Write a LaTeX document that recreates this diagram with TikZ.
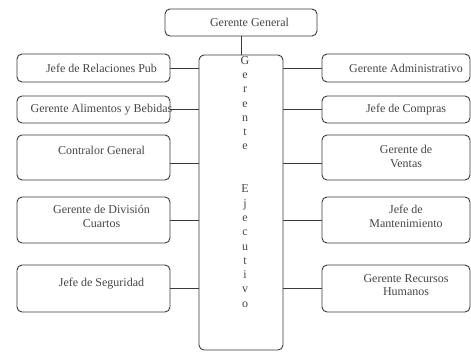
\documentclass[tikz,border=0pt]{standalone}
\usepackage{fontspec}
\setmainfont{Liberation Serif}
\usetikzlibrary{positioning,calc}
\definecolor{orgline}{HTML}{3A3A3A}
\definecolor{orgtext}{HTML}{454545}
\tikzset{
  cargo/.style={draw=orgline, line width=0.9pt, rounded corners=5pt, minimum width=153pt, minimum height=28pt, inner sep=0pt},
  cargoder/.style={cargo, minimum width=148pt},
  cargoalto/.style={cargo, minimum height=46pt},
  cargoderalto/.style={cargoder, minimum height=46pt},
  rotulo/.style={font=\fontsize{12}{13.5}\selectfont, text=orgtext, align=center, inner sep=0pt},
  enlace/.style={draw=orgline, line width=0.9pt}
}

\begin{document}
\begin{tikzpicture}[x=1pt, y=-1pt]
  \useasboundingbox (0,0) rectangle (471,353);
  % top and central boxes
  \node[cargo, minimum width=152pt, minimum height=27pt] (general) at (241,22.5) {};
  \node[draw=orgline, line width=0.9pt, rounded corners=5pt, minimum width=84pt, minimum height=295pt, inner sep=0pt] (ejec) at (241,202.5) {};
  \node[rotulo] (generaltxt) at ([xshift=8.5pt]general.center) {Gerente General};
  \node[rotulo, font=\fontsize{12}{14.3}\selectfont, anchor=north] (ejectxt) at (245,56) {G\\e\\r\\e\\n\\t\\e\\[28.6pt]E\\j\\e\\c\\u\\t\\i\\v\\o};
  % left column
  \node[cargo] (relpub) at (93.5,68) {};
  \node[cargo, minimum height=27pt] (alimentos) at (93.5,109.5) {};
  \node[cargoalto, minimum height=45pt] (contralor) at (93.5,157.5) {};
  \node[cargoalto] (cuartos) at (93.5,220) {};
  \node[cargoalto, minimum height=47pt] (seguridad) at (93.5,288.5) {};
  \node[rotulo] (relpubtxt) at ([xshift=8pt]relpub.center) {Jefe de Relaciones Pub};
  \node[rotulo] (alimentostxt) at ([xshift=8pt]alimentos.center) {Gerente Alimentos y Bebidas};
  \node[rotulo] (contralortxt) at ([xshift=8pt,yshift=7.5pt]contralor.center) {Contralor General};
  \node[rotulo] (cuartostxt) at ([xshift=8pt,yshift=3.5pt]cuartos.center) {Gerente de División\\Cuartos};
  \node[rotulo] (seguridadtxt) at ([xshift=8pt,yshift=4.5pt]seguridad.center) {Jefe de Seguridad};
  % right column
  \node[cargoder] (admin) at (396,68) {};
  \node[cargoder, minimum height=27pt] (compras) at (396,109.5) {};
  \node[cargoderalto, minimum height=45pt] (ventas) at (396,157.5) {};
  \node[cargoderalto] (mantenim) at (396,220) {};
  \node[cargoderalto, minimum height=47pt] (rrhh) at (396,288.5) {};
  \node[rotulo] (admintxt) at ([xshift=10pt]admin.center) {Gerente Administrativo};
  \node[rotulo] (comprastxt) at ([xshift=10pt]compras.center) {Jefe de Compras};
  \node[rotulo] (ventastxt) at ([xshift=10pt,yshift=1pt]ventas.center) {Gerente de\\Ventas};
  \node[rotulo] (mantenimtxt) at ([xshift=10pt,yshift=3.5pt]mantenim.center) {Jefe de\\Mantenimiento};
  \node[rotulo] (rrhhtxt) at ([xshift=10pt,yshift=3.5pt]rrhh.center) {Gerente Recursos\\Humanos};
  % connectors
  \draw[enlace] (general) -- (ejec);
  \draw[enlace] (relpub) -- (relpub -| ejec.west);
  \draw[enlace] (alimentos) -- (alimentos -| ejec.west);
  \draw[enlace] ([yshift=-6pt]contralor.east) -- ([yshift=-6pt]contralor.east -| ejec.west);
  \draw[enlace] (cuartos) -- (cuartos -| ejec.west);
  \draw[enlace] (seguridad) -- (seguridad -| ejec.west);
  \draw[enlace] (admin) -- (admin -| ejec.east);
  \draw[enlace] (compras) -- (compras -| ejec.east);
  \draw[enlace] ([yshift=-6pt]ventas.west) -- ([yshift=-6pt]ventas.west -| ejec.east);
  \draw[enlace] (mantenim) -- (mantenim -| ejec.east);
  \draw[enlace] (rrhh) -- (rrhh -| ejec.east);
\end{tikzpicture}
\end{document}
